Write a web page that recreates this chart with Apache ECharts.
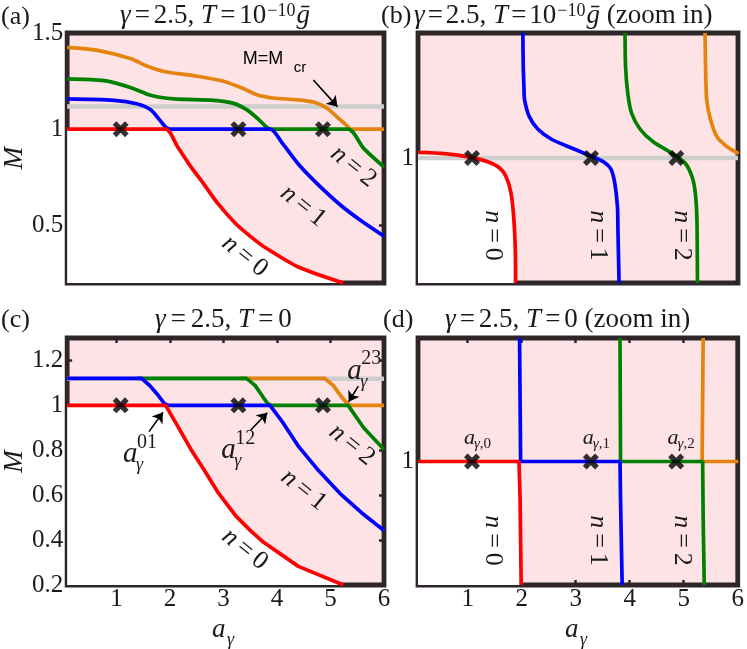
<!DOCTYPE html>
<html>
<head>
<meta charset="utf-8">
<title>M vs a_gamma</title>
<script src="https://cdn.jsdelivr.net/npm/echarts@6.0.0/dist/echarts.min.js"></script>
<style>
html,body{margin:0;padding:0;background:#fff;}
#main{width:747px;height:649px;}
</style>
</head>
<body>
<div id="main"></div>
<script>
// ---- values ----
var xTickVals = [1, 2, 3, 4, 5, 6];
var xMinor = [1, 2, 3, 4, 5];
var crossX = [1.08, 3.28, 4.86];
var mCr = 1.118;
var aYTicks = [0.5, 1, 1.5];
var cYTicks = [0.2, 0.4, 0.6, 0.8, 1, 1.2];

// below M = 1 both temperatures give the same curves
var redTail = [[2.14,0.91],[2.39,0.805],[2.64,0.712],[2.89,0.615],[3.23,0.508],[3.51,0.441],[3.75,0.39],[4.4,0.283],[5.24,0.2]];
var blueTail = [[4.1,0.927],[4.41,0.815],[4.75,0.717],[5.18,0.607],[5.58,0.522],[6,0.443]];
var greenTail = [[5.62,0.9],[6,0.803]];

// (a) T = 1e-10
var aRed = [[0.08,1],[1.92,1]].concat(redTail);
var aBlue = [[0.08,1.157],[0.955,1.15],[1.38,1.132],[1.64,1.101],[1.82,1.044],[1.92,1.01],[2.0,1],[3.87,1]].concat(blueTail);
var aGreen = [[0.08,1.261],[0.77,1.252],[1.26,1.217],[1.64,1.176],[2.07,1.157],[2.82,1.15],[3.19,1.134],[3.44,1.1],[3.66,1.05],[3.81,1.01],[3.9,1],[5.33,1]].concat(greenTail);
var aOrange = [[0.08,1.425],[0.645,1.41],[1.26,1.367],[1.58,1.327],[1.89,1.3],[2.51,1.275],[3.0,1.249],[3.38,1.21],[3.62,1.179],[3.93,1.162],[4.37,1.153],[4.68,1.141],[4.93,1.11],[5.11,1.067],[5.3,1.02],[5.39,1],[6,1]];

// (b) T = 1e-10, zoom in around M = 1
var bRed = [[0.08,1.0045],[0.57,1.0035],[1.06,1.0005],[1.37,0.997],[1.59,0.992],[1.71,0.985],[1.8,0.972],[1.85,0.953],[1.88,0.927],[1.885,0.9]];
var bBlue = [[2.02,1.1],[2.027,1.073],[2.04,1.057],[2.05,1.047],[2.14,1.033],[2.3,1.023],[2.55,1.015],[2.92,1.008],[3.26,1.002],[3.51,0.997],[3.65,0.991],[3.72,0.98],[3.77,0.961],[3.78,0.94],[3.8,0.9]];
var bGreen = [[3.91,1.1],[3.92,1.073],[3.96,1.052],[4.03,1.036],[4.19,1.023],[4.43,1.013],[4.81,1.003],[5.02,0.996],[5.15,0.985],[5.21,0.972],[5.24,0.951],[5.25,0.9]];
var bOrange = [[5.39,1.1],[5.4,1.073],[5.42,1.047],[5.49,1.031],[5.61,1.017],[5.8,1.009],[6.01,1.0035]];

// (c) T = 0
var cRed = [[0.08,1],[1.92,1]].concat(redTail);
var cBlue = [[0.08,1.12],[1.47,1.12],[1.62,1.089],[1.78,1.045],[1.9,1.007],[1.97,1],[3.87,1]].concat(blueTail);
var cGreen = [[1.4,1.12],[3.43,1.12],[3.59,1.089],[3.74,1.037],[3.83,1.007],[3.9,1],[5.33,1]].concat(greenTail);
var cOrange = [[3.3,1.12],[4.89,1.12],[5.05,1.089],[5.21,1.037],[5.33,1.004],[5.39,1],[6,1]];

// (d) T = 0, zoom in
var dRed = [[0.08,1],[1.95,1],[1.97,0.97],[1.99,0.9]];
var dBlue = [[1.96,1.1],[1.98,1],[3.82,1],[3.83,0.969],[3.86,0.9]];
var dGreen = [[3.82,1.1],[3.83,1],[5.35,1],[5.36,0.953],[5.38,0.9]];
var dOrange = [[5.36,1.1],[5.34,1],[6.01,1]];

var FONT = 'Liberation Serif';
var C = {red:'#ff0000', blue:'#0000ff', green:'#008000', orange:'#e5840c',
         gray:'#cecece', pink:'#fde3e5', frame:'#2e2628', text:'#1a1a1a'};

var grids = [
  {left:66, top:33, width:318, height:250},
  {left:418, top:33, width:320, height:250},
  {left:66, top:338, width:318, height:247},
  {left:418, top:338, width:320, height:247}
].map(function(g){
  return Object.assign({show:true, backgroundColor:C.pink, borderColor:C.frame, borderWidth:4.8}, g);
});

function xAx(g, pos, labels, ticks){
  return {type:'value', gridIndex:g, position:pos, min:0.08, max:6,
    axisLine:{show:false}, splitLine:{show:false},
    axisTick:{show:!!ticks, inside:true, length:5, lineStyle:{color:C.frame, width:2.5}, customValues:ticks || [1]},
    axisLabel:{show:!!labels, customValues:labels || [1], margin:2, color:C.text, fontFamily:FONT, fontSize:25}};
}
function yAx(g, pos, range, labels, ticks, name){
  return {type:'value', gridIndex:g, position:pos, min:range[0], max:range[1],
    name:name || '', nameLocation:'middle', nameGap:38, nameRotate:90,
    nameTextStyle:{fontFamily:FONT, fontStyle:'italic', fontSize:27, color:C.text},
    axisLine:{show:false}, splitLine:{show:false},
    axisTick:{show:!!ticks, inside:true, length:5, lineStyle:{color:C.frame, width:2.5}, customValues:ticks || [1]},
    axisLabel:{show:!!labels, customValues:labels || [1], margin:4, color:C.text, fontFamily:FONT, fontSize:25}};
}

var xAxes = [
  xAx(0,'bottom'), xAx(1,'bottom'),
  xAx(2,'bottom', xTickVals, xMinor), xAx(3,'bottom', xTickVals, xMinor),
  xAx(2,'top', null, xMinor), xAx(3,'top', null, xMinor)
];
var yAxes = [
  yAx(0,'left',[0.2,1.5], aYTicks, aYTicks, 'M'),
  yAx(1,'left',[0.9,1.1], [1], null),
  yAx(2,'left',[0.2,1.3], cYTicks, cYTicks, 'M'),
  yAx(3,'left',[0.9,1.1], [1], null),
  yAx(0,'right',[0.2,1.5], null, aYTicks),
  yAx(2,'right',[0.2,1.3], null, cYTicks)
];

var XPATH = 'path://M0,2.3 L2.3,0 L5,2.7 L7.7,0 L10,2.3 L7.3,5 L10,7.7 L7.7,10 L5,7.3 L2.3,10 L0,7.7 L2.7,5 Z';

function ln(p, data, color, z, extra){
  return Object.assign({type:'line', xAxisIndex:p, yAxisIndex:p, data:data,
    symbol:'none', showSymbol:false, silent:true, z:z,
    lineStyle:{color:color, width:3.7}}, extra || {});
}

var series = [];
var anchor = [];
function addPanel(p, red, blue, green, orange, grayY, smooth){
  var sm = smooth ? {smooth:0.25} : {};
  series.push(ln(p, red, '#fff', 1, Object.assign({lineStyle:{width:0, opacity:0},
    areaStyle:{color:'#ffffff', opacity:1, origin:'start'}}, sm)));
  if (grayY != null) series.push(ln(p, [[0.08,grayY],[6,grayY]], C.gray, 2, {lineStyle:{color:C.gray, width:4.5}}));
  series.push(ln(p, orange, C.orange, 3, sm));
  series.push(ln(p, green, C.green, 3, sm));
  series.push(ln(p, blue, C.blue, 3, sm));
  series.push(ln(p, red, C.red, 3, sm));
  anchor[p] = series.length;
  series.push({type:'scatter', xAxisIndex:p, yAxisIndex:p, silent:true, z:5,
    data:crossX.map(function(x){ return [x, 1]; }),
    symbol:XPATH, symbolSize:16, itemStyle:{color:'#000'}});
}
addPanel(0, aRed, aBlue, aGreen, aOrange, mCr, true);
addPanel(1, bRed, bBlue, bGreen, bOrange, 1, true);
addPanel(2, cRed, cBlue, cGreen, cOrange, mCr, false);
addPanel(3, dRed, dBlue, dGreen, dOrange, null, false);

function arrows(list){
  return {silent:true, animation:false, symbol:['none','arrow'], symbolSize:10,
    lineStyle:{color:'#000', width:1.6, type:'solid'}, label:{show:false},
    data:list.map(function(a){ return [{coord:a[0]}, {coord:a[1]}]; })};
}
series[anchor[0]].markLine = arrows([[[4.68,1.256],[5.13,1.117]]]);
series[anchor[2]].markLine = arrows([
  [[1.61,0.883],[1.87,0.969]],
  [[3.51,0.89],[3.82,0.967]],
  [[5.52,1.086],[5.34,1.016]]
]);

var option = {
  animation:false,
  backgroundColor:'#fff',
  grid:grids,
  xAxis:xAxes,
  yAxis:yAxes,
  series:series
};

var chart = echarts.init(document.getElementById('main'));
chart.setOption(option);

// ---- text annotations ----
function P(p, xy){ return chart.convertToPixel({seriesIndex:anchor[p]}, xy); }
function richSet(size, gap){
  return {
    i:{fontFamily:FONT, fontStyle:'italic', fontSize:size, fill:C.text},
    e:{fontFamily:FONT, fontSize:size, fill:C.text, padding:[0, gap, 0, gap]},
    d:{fontFamily:FONT, fontSize:size, fill:C.text, padding:[0, 1, 0, 0]},
    s:{fontFamily:FONT, fontSize:Math.round(size*0.68), lineHeight:Math.round(size*0.68), verticalAlign:'top', fill:C.text, padding:[0, 1, 0, 0]}
  };
}
function txt(x, y, text, size, o, gap){
  var st = {text:text, fontFamily:FONT, fontSize:size, fill:C.text,
    align:'center', verticalAlign:'middle', textAlign:'center', textVerticalAlign:'middle',
    rich:richSet(size, gap == null ? Math.round(size*0.22) : gap)};
  return Object.assign({type:'text', x:x, y:y, silent:true, z:100, style:st}, o || {});
}
function left(x, y, text, size, o, gap){
  var t = txt(x, y, text, size, o, gap);
  t.style.align = t.style.textAlign = 'left';
  return t;
}

var els = [];
// panel titles
var TA = '{i|γ}{e|=}2.5, {i|T}{e|=}{d|10}{s|−10}{i|ḡ}';
var TC = '{i|γ}{e|=}2.5, {i|T}{e|=}0';
els.push(left(1, 17, '(a)', 26));
els.push(left(120, 16, TA, 27, null, 4));
els.push(left(381, 16, '(b)', 26));
els.push(left(414, 16, TA + ' (zoom in)', 27, null, 3));
els.push(left(1, 320, '(c)', 26));
els.push(left(155, 320, TC, 27, null, 5));
els.push(left(383, 320, '(d)', 26));
els.push(left(445, 320, TC + ' (zoom in)', 27, null, 4));

// x-axis names a_gamma
[225, 578].forEach(function(cx){
  els.push(left(cx - 13, 630, '{i|a}', 27));
  els.push(left(cx + 2, 640, '{i|γ}', 18));
});

// slanted n labels in (a) and (c)
function nl(p, xy, k, rot){
  var q = P(p, xy);
  els.push(txt(q[0], q[1], '{i|n}{e|=}' + k, 26, {rotation:rot}, 5));
}
var slant = -0.68;
nl(0, [3.40,0.34], 0, slant); nl(0, [4.49,0.60], 1, slant); nl(0, [5.43,0.805], 2, slant);
nl(2, [3.40,0.359], 0, slant); nl(2, [4.50,0.623], 1, slant); nl(2, [5.40,0.824], 2, slant);
// vertical n labels in (b) and (d)
var vert = -Math.PI / 2;
nl(1, [1.47,0.938], 0, vert); nl(1, [3.41,0.938], 1, vert); nl(1, [4.96,0.938], 2, vert);
nl(3, [1.47,0.936], 0, vert); nl(3, [3.41,0.936], 1, vert); nl(3, [4.96,0.936], 2, vert);

// M = M_cr
var q = P(0, [3.36,1.365]);
els.push({type:'text', x:q[0], y:q[1], silent:true, z:100,
  style:{text:'M=M', fontFamily:'Liberation Sans', fontSize:18, fill:'#000',
    align:'left', verticalAlign:'middle', textAlign:'left', textVerticalAlign:'middle'}});
els.push({type:'text', x:q[0] + 51, y:q[1] + 9, silent:true, z:100,
  style:{text:'cr', fontFamily:'Liberation Sans', fontSize:15, fill:'#000',
    align:'left', verticalAlign:'middle', textAlign:'left', textVerticalAlign:'middle'}});

// a_gamma^{ij} labels in (c)
function aij(xy, sup){
  var q = P(2, xy);
  els.push(left(q[0] - 1, q[1], '{i|a}', 29));
  els.push(left(q[0] + 12, q[1] + 11, '{i|γ}', 18));
  els.push(left(q[0] + 13, q[1] - 12, sup, 20));
}
aij([1.14,0.78], '01');
aij([2.98,0.80], '12');
aij([5.33,1.153], '23');

// a_{gamma,k} labels in (d)
[[0.93,'0'],[3.13,'1'],[4.70,'2']].forEach(function(a){
  var q = P(3, [a[0], 1.019]);
  els.push(left(q[0], q[1], '{i|a}', 22));
  els.push(left(q[0] + 10, q[1] + 6, '{i|γ},' + a[1], 15));
});

chart.setOption({graphic:{elements:els}});
</script>
</body>
</html>
